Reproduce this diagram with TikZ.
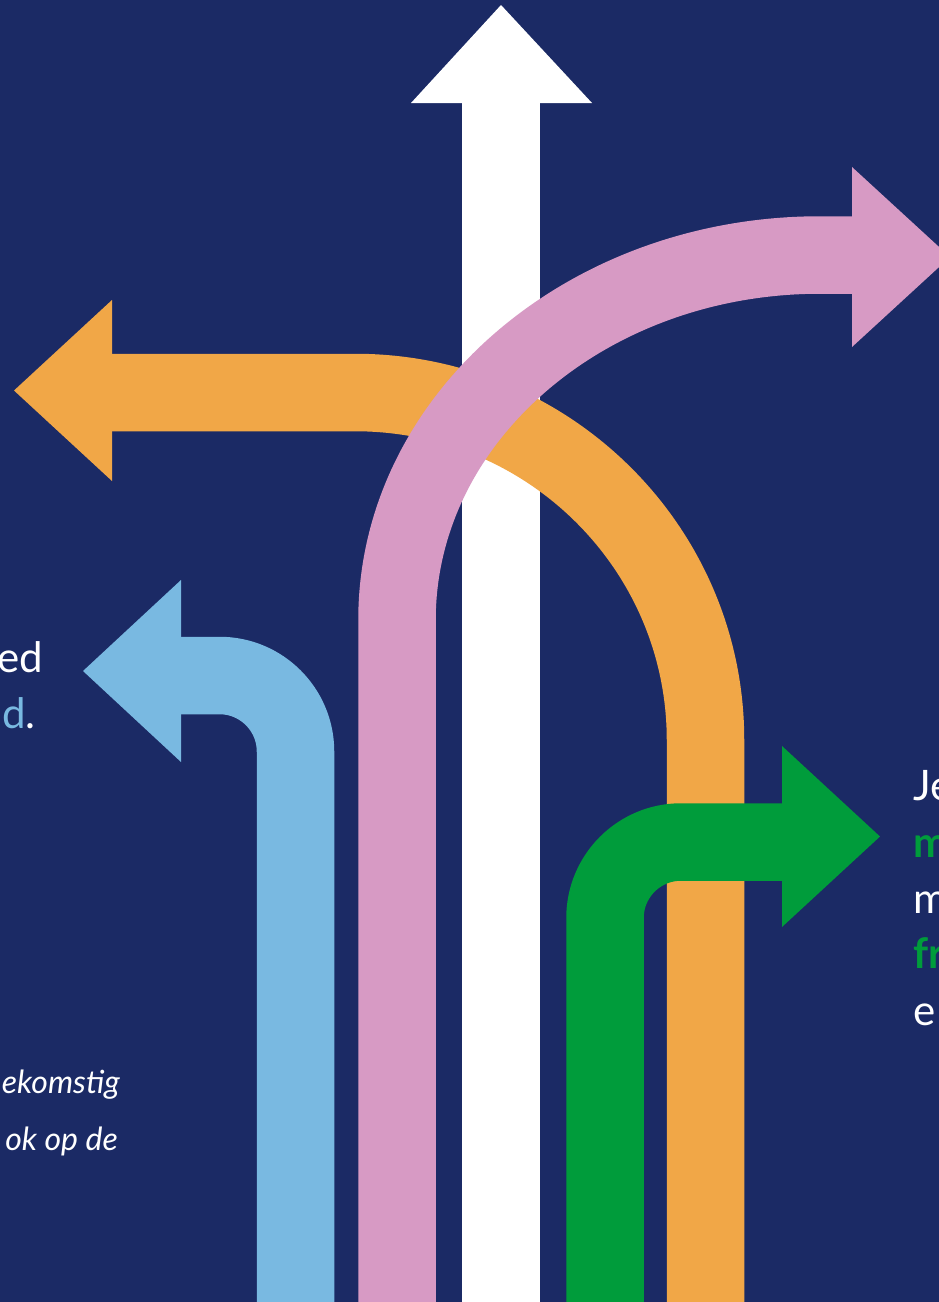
\documentclass[tikz,border=0pt]{standalone}
\usepackage{fontspec}
\setmainfont{Lato}
\definecolor{navy}{RGB}{27,42,101}
\definecolor{aorange}{RGB}{241,167,71}
\definecolor{apink}{RGB}{215,154,196}
\definecolor{ablue}{RGB}{121,185,225}
\definecolor{agreen}{RGB}{0,156,59}
\begin{document}
\begin{tikzpicture}[x=1pt,y=1pt,
  band/.style={line width=77.5pt},
  big/.style={inner sep=0pt, font=\fontsize{42}{50}\selectfont},
  small/.style={inner sep=0pt, text=white, font=\fontsize{32}{38}\selectfont\itshape}]
\useasboundingbox (0,0) rectangle (939,-1302);
\clip (0,0) rectangle (939,-1302);
\fill[navy] (0,0) rectangle (939,-1302);
% white arrow (straight up)
\coordinate (wS) at (501,-1310);
\coordinate (wE) at (501,-100);
\draw[band, white] (wS) -- (wE);
\fill[white] (411,-103) -- (501,-5) -- (592,-103) -- cycle;
% orange arrow (left)
\coordinate (oS) at (705.5,-1310);
\coordinate (oB) at (705.5,-740);
\draw[band, aorange] (oS) -- (oB) arc[start angle=0, end angle=90, x radius=350.5pt, y radius=347.5pt] -- (109,-392.5);
\fill[aorange] (112,-300) -- (14,-390.5) -- (112,-481) -- cycle;
% pink arrow (right, top)
\coordinate (pS) at (397,-1310);
\coordinate (pB) at (397,-620);
\draw[band, apink] (pS) -- (pB) arc[start angle=180, end angle=90, x radius=423pt, y radius=365pt] -- (855,-255);
\fill[apink] (852,-167) -- (950,-257) -- (852,-347) -- cycle;
% blue arrow (left)
\coordinate (bS) at (295.5,-1310);
\coordinate (bB) at (295.5,-751.5);
\draw[band, ablue] (bS) -- (bB) arc[start angle=0, end angle=90, radius=76pt] -- (178,-675.5);
\fill[ablue] (181,-580) -- (83,-671) -- (181,-762) -- cycle;
% green arrow (right)
\coordinate (gS) at (605,-1310);
\coordinate (gB) at (605,-918);
\draw[band, agreen] (gS) -- (gB) arc[start angle=180, end angle=90, radius=76pt] -- (785,-842);
\fill[agreen] (782,-746) -- (880,-836.5) -- (782,-927) -- cycle;
% texts
\node[big, anchor=base east, text=white] (l1) at (43,-672) {ed};
\node[big, anchor=base east, text=white] (l2) at (36,-728) {\textcolor{ablue}{d}.};
\node[big, anchor=base west, text=white] (r1) at (913,-800) {Je};
\node[big, anchor=base west, text=agreen] (r2) at (913,-857) {\bfseries m};
\node[big, anchor=base west, text=white] (r3) at (913,-913) {m};
\node[big, anchor=base west, text=agreen] (r4) at (913,-968) {\bfseries fr};
\node[big, anchor=base west, text=white] (r5) at (913,-1025) {e};
\node[small, anchor=base east] (i1) at (120,-1093) {ekomstig};
\node[small, anchor=base east] (i2) at (118,-1150) {ok op de};
\end{tikzpicture}
\end{document}
